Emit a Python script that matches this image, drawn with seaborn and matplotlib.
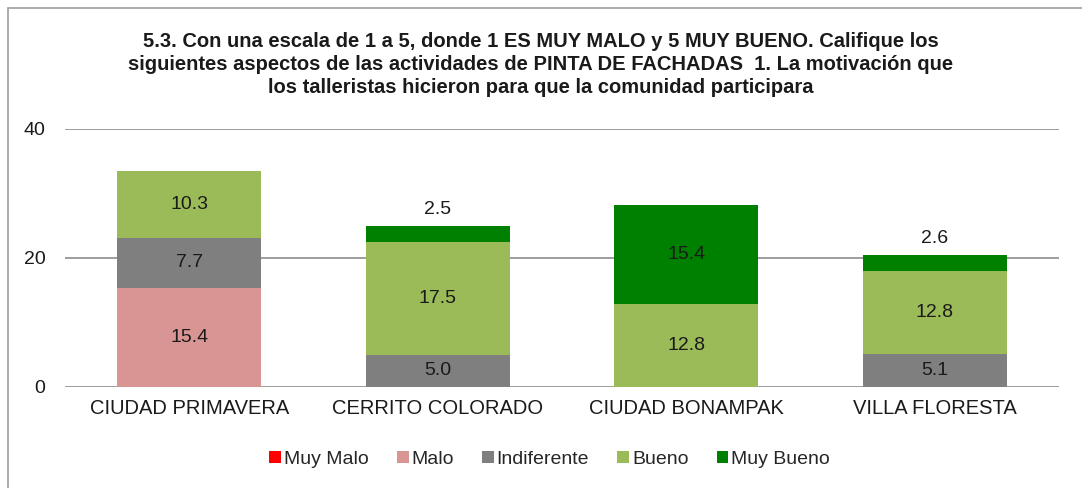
import matplotlib
matplotlib.use("Agg")
import matplotlib.pyplot as plt
import seaborn as sns
import numpy as np
from matplotlib.patches import Patch, Rectangle

# datos del grafico
categorias = ["CIUDAD PRIMAVERA", "CERRITO COLORADO", "CIUDAD BONAMPAK", "VILLA FLORESTA"]
series = ["Muy Malo", "Malo", "Indiferente", "Bueno", "Muy Bueno"]
muy_malo = [0.0, 0.0, 0.0, 0.0]
malo = [15.4, 0.0, 0.0, 0.0]
indiferente = [7.7, 5.0, 0.0, 5.1]
bueno = [10.3, 17.5, 12.8, 12.8]
muy_bueno = [0.0, 2.5, 15.4, 2.6]
colores = ["#FF0000", "#D99594", "#7F7F7F", "#9BBB59", "#008000"]
yticks = [0, 20, 40]

titulo = ("5.3. Con una escala de 1 a 5, donde 1 ES MUY MALO y 5 MUY BUENO. Califique los\n"
          "siguientes aspectos de las actividades de PINTA DE FACHADAS  1. La motivación que\n"
          "los talleristas hicieron para que la comunidad participara")

sns.set_theme(style="white")
plt.rcParams['font.family'] = ['Liberation Sans', 'DejaVu Sans']

fig = plt.figure(figsize=(10.82, 4.88), dpi=100)
ax = fig.add_axes([0.060, 0.207, 0.919, 0.529])

# borde gris de la figura
fig.patches.append(Rectangle((8 / 1082, -0.1), 1.2, 1.1 - 8 / 488, transform=fig.transFigure,
                             fill=False, edgecolor="#A6A6A6", linewidth=1.3))

for y in yticks:
    ax.axhline(y, color="#8C8C8C", linewidth=1.2, zorder=0)

valores = [muy_malo, malo, indiferente, bueno, muy_bueno]
base = np.zeros(len(categorias))
for nombre, vals, color in zip(series, valores, colores):
    vals = np.array(vals)
    sns.barplot(x=categorias, y=vals, bottom=base, color=color, width=0.58,
                saturation=1, ax=ax, zorder=2, linewidth=0)
    for i, v in enumerate(vals):
        if v <= 0:
            continue
        if v < 3:
            ax.text(i, base[i] + v + 2.5, f"{v:.1f}", ha="center", va="center",
                    fontsize=14, color="#1a1a1a")
        else:
            ax.text(i, base[i] + v / 2, f"{v:.1f}", ha="center", va="center",
                    fontsize=14, color="#1a1a1a", zorder=3)
    base = base + vals

ax.set_ylim(0, 40)
ax.set_xlim(-0.5, 3.5)
ax.set_yticks(yticks)
ax.set_xlabel("")
ax.set_ylabel("")
for s in ax.spines.values():
    s.set_visible(False)
ax.tick_params(axis="x", labelsize=14.5, pad=9, length=0, labelcolor="#1a1a1a")
ax.tick_params(axis="y", labelsize=14, pad=14, length=0, labelcolor="#1a1a1a")

fig.text(0.5, 0.867, titulo, ha="center", va="center", fontsize=14.5, fontweight="bold",
         linespacing=1.27, color="#1a1a1a")

handles = [Patch(facecolor=c, edgecolor="none", label=n) for n, c in zip(series, colores)]
fig.legend(handles=handles, loc="center", bbox_to_anchor=(0.508, 0.059), ncol=5, frameon=False,
           fontsize=14, handlelength=0.6, handleheight=0.6, handletextpad=0.15,
           columnspacing=1.45)

fig.savefig("out.png", dpi=100)
